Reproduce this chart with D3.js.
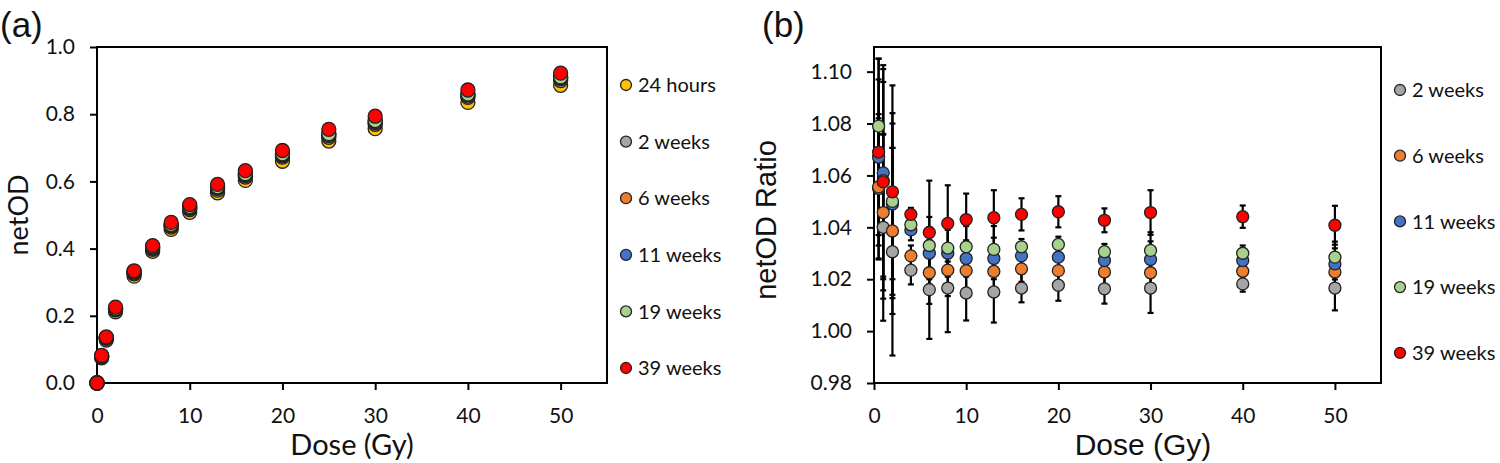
<!DOCTYPE html>
<html>
<head>
<meta charset="utf-8">
<script src="https://cdn.jsdelivr.net/npm/d3@7"></script>
<style>
  body { margin: 0; background: #fff; }
  svg { display: block; }
</style>
</head>
<body>
<svg id="chart" width="1500" height="463"></svg>
<script>
// panel (a): netOD vs dose
const dosesA = [0, 0.5, 1, 2, 4, 6, 8, 10, 13, 16, 20, 25, 30, 40, 50];
const labelsA = ['24 hours', '2 weeks', '6 weeks', '11 weeks', '19 weeks', '39 weeks'];
const hours24 = [0, 0.075, 0.128, 0.212, 0.318, 0.392, 0.457, 0.508, 0.566, 0.603, 0.660, 0.720, 0.757, 0.835, 0.886];
const weeks2A = [0, 0.078, 0.133, 0.218, 0.325, 0.398, 0.464, 0.516, 0.574, 0.613, 0.672, 0.731, 0.770, 0.850, 0.900];
const weeks6A = [0, 0.079, 0.134, 0.220, 0.327, 0.401, 0.468, 0.520, 0.579, 0.617, 0.676, 0.736, 0.774, 0.854, 0.906];
const weeks11A = [0, 0.080, 0.135, 0.221, 0.330, 0.404, 0.470, 0.522, 0.581, 0.620, 0.679, 0.740, 0.778, 0.858, 0.909];
const weeks19A = [0, 0.081, 0.135, 0.222, 0.331, 0.405, 0.472, 0.525, 0.584, 0.623, 0.682, 0.742, 0.781, 0.860, 0.911];
const weeks39A = [0, 0.082, 0.137, 0.226, 0.334, 0.409, 0.478, 0.531, 0.591, 0.632, 0.692, 0.755, 0.794, 0.872, 0.922];
const ticksAx = [0, 10, 20, 30, 40, 50];
const ticksAy = [0, 0.2, 0.4, 0.6, 0.8, 1.0];

// panel (b): netOD ratio vs dose, with error bars
const dosesB = [0.5, 1, 2, 4, 6, 8, 10, 13, 16, 20, 25, 30, 40, 50];
const labelsB = ['2 weeks', '6 weeks', '11 weeks', '19 weeks', '39 weeks'];
const weeks2B = [1.055, 1.040, 1.0306, 1.0235, 1.016, 1.0166, 1.0147, 1.0151, 1.0166, 1.0177, 1.0163, 1.0166, 1.0182, 1.0166];
const weeks6B = [1.0556, 1.0457, 1.0386, 1.029, 1.0225, 1.0235, 1.0233, 1.023, 1.024, 1.0233, 1.0228, 1.0225, 1.0231, 1.0228];
const weeks11B = [1.067, 1.061, 1.049, 1.039, 1.030, 1.030, 1.028, 1.028, 1.029, 1.0285, 1.0272, 1.0276, 1.0272, 1.0259];
const weeks19B = [1.079, 1.058, 1.050, 1.041, 1.033, 1.032, 1.0325, 1.0315, 1.0325, 1.0334, 1.0306, 1.0311, 1.030, 1.0285];
const weeks39B = [1.069, 1.0575, 1.0537, 1.045, 1.038, 1.0415, 1.043, 1.0437, 1.045, 1.046, 1.0427, 1.0457, 1.0441, 1.0408];
const err2B = [0.027, 0.036, 0.040, 0.0055, 0.019, 0.017, 0.0106, 0.0118, 0.0055, 0.006, 0.0057, 0.0096, 0.003, 0.0086];
const err6B = [0.028, 0.030, 0.032, 0.004, 0.012, 0.010, 0.008, 0.009, 0.005, 0.005, 0.005, 0.007, 0.003, 0.006];
const err11B = [0.030, 0.040, 0.035, 0.004, 0.010, 0.009, 0.007, 0.008, 0.005, 0.006, 0.004, 0.007, 0.003, 0.006];
const err19B = [0.026, 0.038, 0.030, 0.0035, 0.011, 0.010, 0.008, 0.009, 0.003, 0.003, 0.003, 0.007, 0.003, 0.006];
const err39B = [0.036, 0.045, 0.041, 0.0025, 0.020, 0.0147, 0.010, 0.0106, 0.0062, 0.006, 0.0046, 0.0086, 0.0043, 0.0075];
const ticksBx = [0, 10, 20, 30, 40, 50];
const ticksBy = [0.98, 1.00, 1.02, 1.04, 1.06, 1.08, 1.10];

const colorsA = ['#FFC000', '#A5A5A5', '#ED7D31', '#4472C4', '#A9D18E', '#FF0000'];
const colorsB = ['#A5A5A5', '#ED7D31', '#4472C4', '#A9D18E', '#FF0000'];

const seriesA = [hours24, weeks2A, weeks6A, weeks11A, weeks19A, weeks39A].map((vals, i) => ({
  name: labelsA[i], color: colorsA[i], pts: vals.map((v, j) => ({ x: dosesA[j], y: v }))
}));
const valsB = [weeks2B, weeks6B, weeks11B, weeks19B, weeks39B];
const errsB = [err2B, err6B, err11B, err19B, err39B];
const seriesB = valsB.map((vals, i) => ({
  name: labelsB[i], color: colorsB[i],
  pts: vals.map((v, j) => ({ x: dosesB[j], y: v, e: errsB[i][j] }))
}));

const svg = d3.select('#chart');
const tickFont = 'Lato, "Open Sans", sans-serif';
const arial = '"Liberation Sans", Arial, sans-serif';

function panel(opt) {
  const { left, right, top, bottom } = opt;
  const x = d3.scaleLinear().domain([0, 55]).range([left, right]);
  const y = d3.scaleLinear().domain(opt.yDomain).range([bottom, top]);
  const g = svg.append('g');

  const xAxis = g.append('g')
    .attr('transform', `translate(0,${bottom})`)
    .call(d3.axisBottom(x).tickValues(opt.xTicks).tickSize(7).tickPadding(18).tickFormat(d3.format('d')));
  const yAxis = g.append('g')
    .attr('transform', `translate(${left},0)`)
    .call(d3.axisLeft(y).tickValues(opt.yTicks).tickSize(7).tickPadding(15).tickFormat(opt.yFormat));
  [xAxis, yAxis].forEach(a => {
    a.select('.domain').remove();
    a.selectAll('.tick line').attr('stroke', '#000').attr('stroke-width', 2);
    a.selectAll('.tick text').attr('fill', '#111').style('font-family', tickFont).style('font-size', '21px');
  });

  g.append('rect')
    .attr('x', left).attr('y', top)
    .attr('width', right - left).attr('height', bottom - top)
    .attr('fill', 'none').attr('stroke', '#000').attr('stroke-width', 2);

  return { g, x, y };
}

// ---------- panel (a)
const A = panel({ left: 97, right: 607, top: 47, bottom: 383, yDomain: [0, 1],
  xTicks: ticksAx, yTicks: ticksAy, yFormat: d3.format('.1f') });

seriesA.forEach(s => {
  A.g.append('g').selectAll('circle')
    .data(s.pts)
    .join('circle')
    .attr('cx', d => A.x(d.x))
    .attr('cy', d => A.y(d.y))
    .attr('r', 7)
    .attr('fill', s.color)
    .attr('stroke', '#222')
    .attr('stroke-width', 1.3);
});

svg.append('text').text('(a)').attr('x', 0).attr('y', 37)
  .style('font-family', arial).style('font-size', '35px').attr('fill', '#111');
svg.append('text').text('Dose (Gy)')
  .attr('x', 352).attr('y', 455).attr('text-anchor', 'middle')
  .style('font-family', tickFont).style('font-size', '29px').attr('fill', '#111');
svg.append('text').text('netOD')
  .attr('transform', 'translate(28,215) rotate(-90)').attr('text-anchor', 'middle')
  .style('font-family', tickFont).style('font-size', '27px').attr('fill', '#111');

const legA = svg.append('g').selectAll('g')
  .data(seriesA)
  .join('g')
  .attr('transform', (d, i) => `translate(626,${85 + i * 56.6})`);
legA.append('circle').attr('r', 5.5).attr('fill', d => d.color).attr('stroke', '#222').attr('stroke-width', 1.3);
legA.append('text').text(d => d.name).attr('x', 12).attr('dy', '0.36em')
  .style('font-family', tickFont).style('font-size', '20px').attr('fill', '#111');

// ---------- panel (b)
const B = panel({ left: 874, right: 1381, top: 47, bottom: 383, yDomain: [0.98, 1.1095],
  xTicks: ticksBx, yTicks: ticksBy, yFormat: d3.format('.2f') });

const cap = 3;
seriesB.forEach(s => {
  const eb = B.g.append('g').attr('stroke', '#000').attr('stroke-width', 2.2);
  eb.selectAll('line.bar').data(s.pts).join('line').attr('class', 'bar')
    .attr('x1', d => B.x(d.x)).attr('x2', d => B.x(d.x))
    .attr('y1', d => B.y(d.y - d.e)).attr('y2', d => B.y(d.y + d.e));
  eb.selectAll('line.hi').data(s.pts).join('line').attr('class', 'hi')
    .attr('x1', d => B.x(d.x) - cap).attr('x2', d => B.x(d.x) + cap)
    .attr('y1', d => B.y(d.y + d.e)).attr('y2', d => B.y(d.y + d.e));
  eb.selectAll('line.lo').data(s.pts).join('line').attr('class', 'lo')
    .attr('x1', d => B.x(d.x) - cap).attr('x2', d => B.x(d.x) + cap)
    .attr('y1', d => B.y(d.y - d.e)).attr('y2', d => B.y(d.y - d.e));
});
seriesB.forEach(s => {
  B.g.append('g').selectAll('circle')
    .data(s.pts)
    .join('circle')
    .attr('cx', d => B.x(d.x))
    .attr('cy', d => B.y(d.y))
    .attr('r', 6)
    .attr('fill', s.color)
    .attr('stroke', '#222')
    .attr('stroke-width', 1.3);
});

svg.append('text').text('(b)').attr('x', 762).attr('y', 37)
  .style('font-family', arial).style('font-size', '35px').attr('fill', '#111');
svg.append('text').text('Dose (Gy)')
  .attr('x', 1143).attr('y', 455).attr('text-anchor', 'middle')
  .style('font-family', arial).style('font-size', '30px').attr('fill', '#111');
svg.append('text').text('netOD Ratio')
  .attr('transform', 'translate(776,220) rotate(-90)').attr('text-anchor', 'middle')
  .style('font-family', arial).style('font-size', '29px').attr('fill', '#111');

const legB = svg.append('g').selectAll('g')
  .data(seriesB)
  .join('g')
  .attr('transform', (d, i) => `translate(1400,${90 + i * 65.7})`);
legB.append('circle').attr('r', 5.5).attr('fill', d => d.color).attr('stroke', '#222').attr('stroke-width', 1.3);
legB.append('text').text(d => d.name).attr('x', 12).attr('dy', '0.36em')
  .style('font-family', tickFont).style('font-size', '20px').attr('fill', '#111');
</script>
</body>
</html>
